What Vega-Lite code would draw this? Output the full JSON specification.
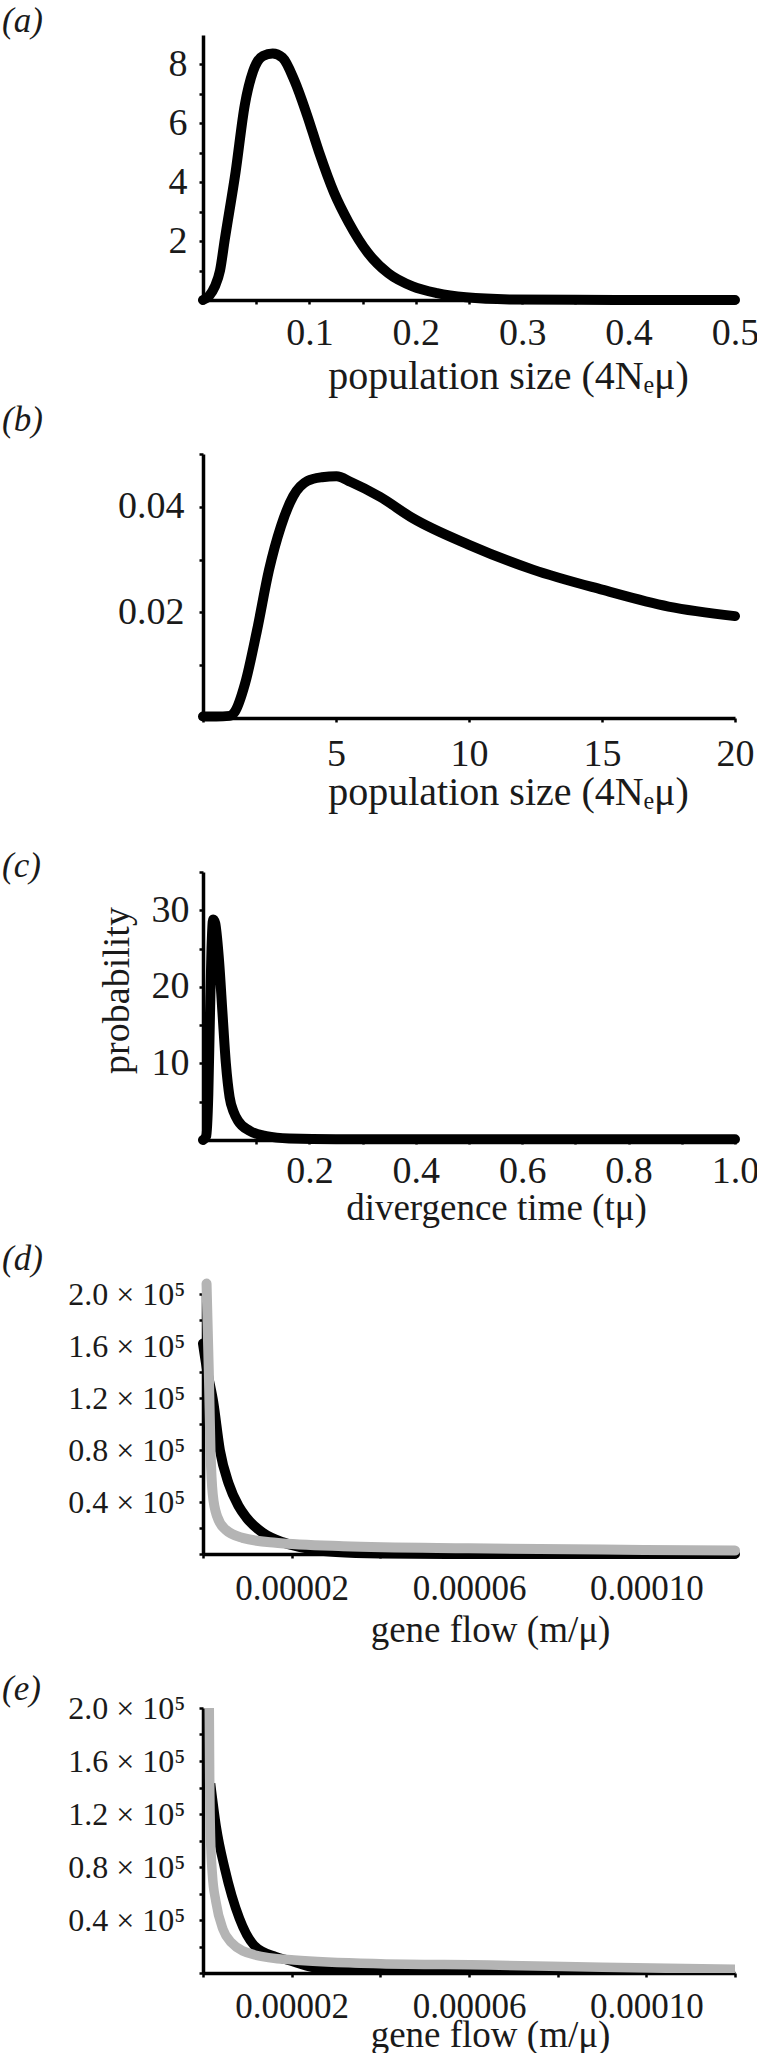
{
  "$schema": "https://vega.github.io/schema/vega-lite/v6.json",
  "background": "white",
  "padding": {"left": 2, "top": 4, "right": 0, "bottom": 0},
  "spacing": 154,
  "bounds": "flush",
  "config": {
    "font": "Liberation Serif",
    "view": {"stroke": null},
    "axis": {
      "grid": false,
      "domainColor": "black",
      "domainWidth": 3.5,
      "tickColor": "black",
      "tickWidth": 2.5,
      "tickSize": 4,
      "labelFont": "Liberation Serif",
      "labelFontSize": 38,
      "labelColor": "#1a1a1a",
      "labelFlush": false,
      "labelOverlap": false,
      "labelBound": false,
      "titleFont": "Liberation Serif",
      "titleFontSize": 37,
      "titleFontWeight": "normal",
      "titleColor": "#1a1a1a"
    },
    "axisX": {"labelBaseline": "alphabetic", "titleBaseline": "alphabetic", "titleAlign": "center"},
    "title": {
      "font": "Liberation Serif",
      "fontSize": 35,
      "fontStyle": "italic",
      "fontWeight": "normal",
      "color": "#1a1a1a",
      "anchor": "start",
      "frame": "group",
      "baseline": "alphabetic",
      "dx": -201
    }
  },
  "datasets": {
    "d": [
      {"s": "black", "x": 0, "y": 162000},
      {"s": "black", "x": 0.0000010, "y": 140000},
      {"s": "black", "x": 0.0000023, "y": 117000},
      {"s": "black", "x": 0.0000038, "y": 80000},
      {"s": "black", "x": 0.0000058, "y": 54000},
      {"s": "black", "x": 0.0000080, "y": 37000},
      {"s": "black", "x": 0.0000098, "y": 28000},
      {"s": "black", "x": 0.0000134, "y": 16500},
      {"s": "black", "x": 0.0000180, "y": 9000},
      {"s": "black", "x": 0.0000240, "y": 4000},
      {"s": "black", "x": 0.0000300, "y": 1500},
      {"s": "black", "x": 0.0000400, "y": 400},
      {"s": "black", "x": 0.0000600, "y": 0},
      {"s": "black", "x": 0.0001200, "y": 0},
      {"s": "gray", "x": 0.0000008, "y": 208000},
      {"s": "gray", "x": 0.0000013, "y": 142000},
      {"s": "gray", "x": 0.0000017, "y": 79000},
      {"s": "gray", "x": 0.0000022, "y": 46000},
      {"s": "gray", "x": 0.0000032, "y": 28800},
      {"s": "gray", "x": 0.0000051, "y": 18700},
      {"s": "gray", "x": 0.0000089, "y": 12400},
      {"s": "gray", "x": 0.0000164, "y": 8600},
      {"s": "gray", "x": 0.0000316, "y": 6000},
      {"s": "gray", "x": 0.0000600, "y": 4400},
      {"s": "gray", "x": 0.0000900, "y": 3400},
      {"s": "gray", "x": 0.0001200, "y": 2600}
    ],
    "e": [
      {"s": "black", "x": 0.0000017, "y": 143000},
      {"s": "black", "x": 0.0000030, "y": 110000},
      {"s": "black", "x": 0.0000049, "y": 79000},
      {"s": "black", "x": 0.0000082, "y": 41300},
      {"s": "black", "x": 0.0000115, "y": 21000},
      {"s": "black", "x": 0.0000164, "y": 12300},
      {"s": "black", "x": 0.0000190, "y": 9800},
      {"s": "black", "x": 0.0000250, "y": 4000},
      {"s": "black", "x": 0.0000300, "y": 1500},
      {"s": "black", "x": 0.0000400, "y": 400},
      {"s": "black", "x": 0.0000600, "y": 0},
      {"s": "black", "x": 0.0001200, "y": 0},
      {"s": "gray", "x": 0.0000014, "y": 206000},
      {"s": "gray", "x": 0.0000015, "y": 150000},
      {"s": "gray", "x": 0.0000017, "y": 103000},
      {"s": "gray", "x": 0.0000021, "y": 75000},
      {"s": "gray", "x": 0.0000029, "y": 54000},
      {"s": "gray", "x": 0.0000045, "y": 33000},
      {"s": "gray", "x": 0.0000062, "y": 23600},
      {"s": "gray", "x": 0.0000117, "y": 13600},
      {"s": "gray", "x": 0.0000205, "y": 9800},
      {"s": "gray", "x": 0.0000400, "y": 7000},
      {"s": "gray", "x": 0.0000645, "y": 6000},
      {"s": "gray", "x": 0.0000900, "y": 4300},
      {"s": "gray", "x": 0.0001200, "y": 2800}
    ]
  },
  "vconcat": [
    {
      "width": 532,
      "height": 265,
      "title": {"text": "(a)", "offset": -4},
      "data": {"values": [
        {"x": 0, "y": 0}, {"x": 0.006, "y": 0.15}, {"x": 0.011, "y": 0.45}, {"x": 0.016, "y": 1.0},
        {"x": 0.0205, "y": 2.06}, {"x": 0.0306, "y": 4.34}, {"x": 0.0393, "y": 6.63}, {"x": 0.0471, "y": 7.77},
        {"x": 0.0563, "y": 8.29}, {"x": 0.0655, "y": 8.37}, {"x": 0.0747, "y": 8.23}, {"x": 0.0862, "y": 7.43},
        {"x": 0.0977, "y": 6.29}, {"x": 0.109, "y": 5.03}, {"x": 0.123, "y": 3.66}, {"x": 0.137, "y": 2.63},
        {"x": 0.155, "y": 1.6}, {"x": 0.174, "y": 0.91}, {"x": 0.197, "y": 0.46}, {"x": 0.22, "y": 0.23},
        {"x": 0.247, "y": 0.09}, {"x": 0.288, "y": 0.02}, {"x": 0.35, "y": 0.005}, {"x": 0.42, "y": 0},
        {"x": 0.5, "y": 0}
      ]},
      "mark": {"type": "line", "color": "black", "strokeWidth": 10, "strokeCap": "round", "strokeJoin": "round", "interpolate": "monotone", "clip": false},
      "encoding": {
        "x": {"field": "x", "type": "quantitative", "scale": {"domain": [0, 0.5], "nice": false, "zero": false},
          "axis": {"title": "population size (4Nₑμ)", "titleFontSize": 40, "values": [0, 0.05, 0.1, 0.15, 0.2, 0.25, 0.3, 0.35, 0.4, 0.45, 0.5],
            "labelExpr": "datum.value > 0 && round(datum.value * 100) % 10 == 0 ? format(datum.value, '.1f') : ''",
            "labelPadding": 40, "titleX": 305, "titleY": 88}},
        "y": {"field": "y", "type": "quantitative", "scale": {"domain": [0, 9], "nice": false},
          "axis": {"title": null, "values": [0, 1, 2, 3, 4, 5, 6, 7, 8],
            "labelExpr": "datum.value > 0 && datum.value % 2 == 0 ? format(datum.value, 'd') : ''", "labelPadding": 12}}
      }
    },
    {
      "width": 532,
      "height": 264,
      "title": {"text": "(b)", "offset": -3},
      "data": {"values": [
        {"x": 0, "y": 0.0003}, {"x": 0.5, "y": 0.0003}, {"x": 1.0, "y": 0.0004}, {"x": 1.2, "y": 0.0012},
        {"x": 1.58, "y": 0.0065}, {"x": 2.03, "y": 0.0166}, {"x": 2.48, "y": 0.028}, {"x": 2.93, "y": 0.0363},
        {"x": 3.39, "y": 0.042}, {"x": 3.93, "y": 0.0449}, {"x": 4.47, "y": 0.0456}, {"x": 5.02, "y": 0.0458},
        {"x": 5.56, "y": 0.0447}, {"x": 6.65, "y": 0.0419}, {"x": 7.9, "y": 0.0378}, {"x": 10, "y": 0.0328},
        {"x": 12.4, "y": 0.0281}, {"x": 15, "y": 0.0243}, {"x": 17.5, "y": 0.0211}, {"x": 20, "y": 0.0193}
      ]},
      "mark": {"type": "line", "color": "black", "strokeWidth": 10, "strokeCap": "round", "strokeJoin": "round", "interpolate": "monotone", "clip": false},
      "encoding": {
        "x": {"field": "x", "type": "quantitative", "scale": {"domain": [0, 20], "nice": false, "zero": false},
          "axis": {"title": "population size (4Nₑμ)", "titleFontSize": 40, "values": [0, 5, 10, 15, 20],
            "labelExpr": "datum.value > 0 ? format(datum.value, 'd') : ''",
            "labelPadding": 43, "titleX": 305, "titleY": 86}},
        "y": {"field": "y", "type": "quantitative", "scale": {"domain": [0, 0.05], "nice": false},
          "axis": {"title": null, "values": [0, 0.01, 0.02, 0.03, 0.04, 0.05],
            "labelExpr": "round(datum.value * 100) == 2 || round(datum.value * 100) == 4 ? format(datum.value, '.2f') : ''", "labelPadding": 15}}
      }
    },
    {
      "width": 532,
      "height": 268,
      "title": {"text": "(c)", "offset": -31},
      "data": {"values": [
        {"x": 0, "y": 0}, {"x": 0.006, "y": 0.5}, {"x": 0.010, "y": 6}, {"x": 0.013, "y": 16},
        {"x": 0.016, "y": 25}, {"x": 0.019, "y": 28.8}, {"x": 0.023, "y": 28.3}, {"x": 0.027, "y": 26},
        {"x": 0.0304, "y": 23.2}, {"x": 0.0366, "y": 16.6}, {"x": 0.043, "y": 10}, {"x": 0.050, "y": 5.6},
        {"x": 0.058, "y": 3.6}, {"x": 0.066, "y": 2.5}, {"x": 0.0875, "y": 1.2}, {"x": 0.119, "y": 0.5},
        {"x": 0.162, "y": 0.2}, {"x": 0.25, "y": 0.1}, {"x": 0.5, "y": 0.1}, {"x": 1.0, "y": 0.1}
      ]},
      "mark": {"type": "line", "color": "black", "strokeWidth": 10, "strokeCap": "round", "strokeJoin": "round", "interpolate": "monotone", "clip": false},
      "encoding": {
        "x": {"field": "x", "type": "quantitative", "scale": {"domain": [0, 1], "nice": false, "zero": false},
          "axis": {"title": "divergence time (tμ)", "values": [0, 0.1, 0.2, 0.3, 0.4, 0.5, 0.6, 0.7, 0.8, 0.9, 1.0],
            "labelExpr": "datum.value > 0 && round(datum.value * 10) % 2 == 0 ? format(datum.value, '.1f') : ''",
            "labelPadding": 38, "titleX": 293, "titleY": 79}},
        "y": {"field": "y", "type": "quantitative", "scale": {"domain": [0, 35], "nice": false},
          "axis": {"title": "probability", "titleFontSize": 38, "titleX": -86, "titleY": 118, "titleAlign": "center", "titleBaseline": "middle", "titleAngle": -90,
            "values": [0, 5, 10, 15, 20, 25, 30, 35],
            "labelExpr": "datum.value > 0 && datum.value % 10 == 0 ? format(datum.value, 'd') : ''", "labelPadding": 10}}
      }
    },
    {
      "width": 532,
      "height": 260,
      "title": {"text": "(d)", "offset": 1},
      "data": {"name": "d"},
      "encoding": {
        "x": {"field": "x", "type": "quantitative", "scale": {"domain": [0, 0.00012], "nice": false, "zero": false},
          "axis": {"title": "gene flow (m/μ)", "values": [0, 0.00002, 0.00004, 0.00006, 0.00008, 0.0001, 0.00012],
            "labelExpr": "round(datum.value * 100000) % 4 == 2 ? format(datum.value, '.5f') : ''",
            "labelFontSize": 35, "labelPadding": 41, "titleX": 287, "titleY": 87}},
        "y": {"field": "y", "type": "quantitative", "scale": {"domain": [0, 200000], "nice": false},
          "axis": {"title": null, "values": [0, 20000, 40000, 60000, 80000, 100000, 120000, 140000, 160000, 180000, 200000],
            "labelExpr": "datum.value > 0 && round(datum.value / 20000) % 2 == 0 ? format(datum.value / 100000, '.1f') + ' × 10⁵' : ''",
            "labelFontSize": 32, "labelPadding": 14}}
      },
      "layer": [
        {"transform": [{"filter": "datum.s == 'black'"}],
         "mark": {"type": "line", "color": "black", "strokeWidth": 10, "strokeCap": "round", "strokeJoin": "round", "interpolate": "monotone", "clip": false}},
        {"transform": [{"filter": "datum.s == 'gray'"}],
         "mark": {"type": "line", "color": "#b4b4b4", "strokeWidth": 10, "strokeCap": "round", "strokeJoin": "round", "interpolate": "monotone", "clip": false}}
      ]
    },
    {
      "width": 532,
      "height": 265,
      "title": {"text": "(e)", "offset": -15},
      "data": {"name": "e"},
      "encoding": {
        "x": {"field": "x", "type": "quantitative", "scale": {"domain": [0, 0.00012], "nice": false, "zero": false},
          "axis": {"title": "gene flow (m/μ)", "values": [0, 0.00002, 0.00004, 0.00006, 0.00008, 0.0001, 0.00012],
            "labelExpr": "round(datum.value * 100000) % 4 == 2 ? format(datum.value, '.5f') : ''",
            "labelFontSize": 35, "labelPadding": 40, "titleX": 287, "titleY": 73}},
        "y": {"field": "y", "type": "quantitative", "scale": {"domain": [0, 200000], "nice": false},
          "axis": {"title": null, "values": [0, 20000, 40000, 60000, 80000, 100000, 120000, 140000, 160000, 180000, 200000],
            "labelExpr": "datum.value > 0 && round(datum.value / 20000) % 2 == 0 ? format(datum.value / 100000, '.1f') + ' × 10⁵' : ''",
            "labelFontSize": 32, "labelPadding": 14}}
      },
      "layer": [
        {"transform": [{"filter": "datum.s == 'black'"}],
         "mark": {"type": "line", "color": "black", "strokeWidth": 9.5, "strokeCap": "butt", "strokeJoin": "round", "interpolate": "monotone", "clip": true}},
        {"transform": [{"filter": "datum.s == 'gray'"}],
         "mark": {"type": "line", "color": "#b4b4b4", "strokeWidth": 9.5, "strokeCap": "butt", "strokeJoin": "round", "interpolate": "monotone", "clip": true}}
      ]
    }
  ]
}
